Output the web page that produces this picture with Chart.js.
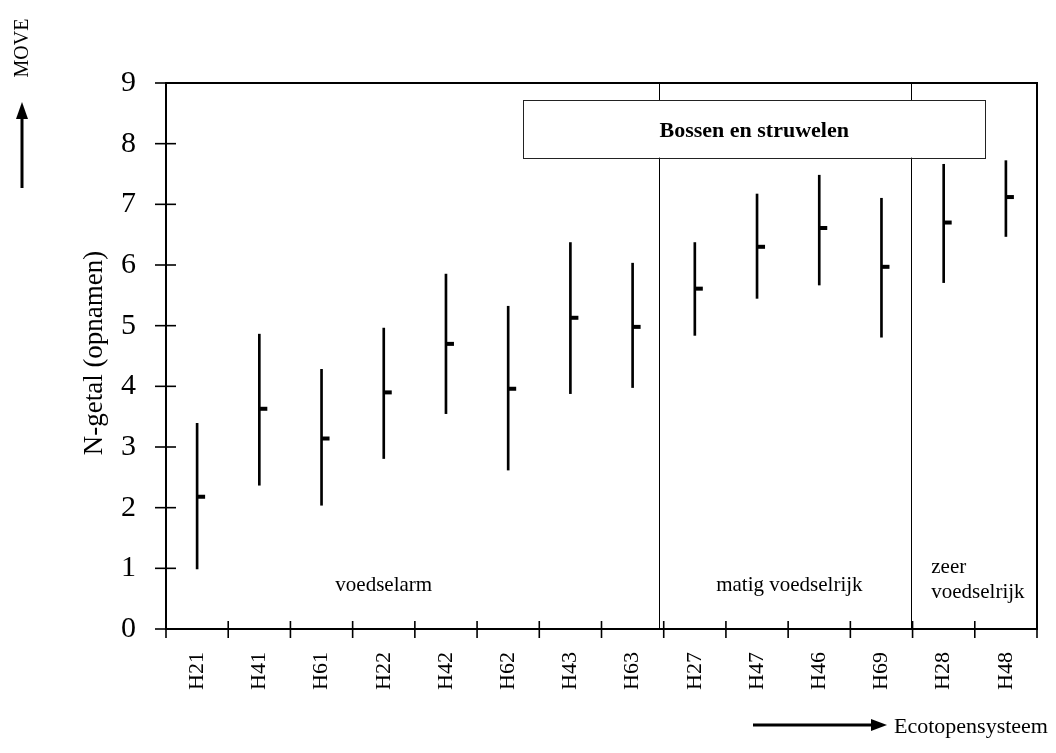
<!DOCTYPE html>
<html><head><meta charset="utf-8">
<script src="https://cdn.jsdelivr.net/npm/chart.js@4.4.1/dist/chart.umd.min.js"></script>
<style>html,body{margin:0;padding:0;background:#fff}</style>
</head><body>
<canvas id="c" width="1056" height="753"></canvas>
<script>
// ---- data ----
const categories = ['H21','H41','H61','H22','H42','H62','H43','H63','H27','H47','H46','H69','H28','H48'];
const lowValues  = [0.99, 2.37, 2.04, 2.81, 3.55, 2.62, 3.88, 3.98, 4.84, 5.45, 5.67, 4.81, 5.71, 6.47];
const highValues = [3.39, 4.86, 4.28, 4.96, 5.85, 5.32, 6.37, 6.03, 6.37, 7.17, 7.48, 7.10, 7.66, 7.72];
const meanValues = [2.18, 3.63, 3.14, 3.90, 4.70, 3.96, 5.13, 4.98, 5.61, 6.30, 6.61, 5.97, 6.70, 7.12];
const yTickValues = [0, 1, 2, 3, 4, 5, 6, 7, 8, 9];
const separatorsAt = [7.42, 11.48];           // category-index units
const groupNames = ['voedselarm', 'matig voedselrijk', 'zeer', 'voedselrijk'];
const boxTitle = 'Bossen en struwelen';
const yTitle = 'N-getal (opnamen)';
const xNote = 'Ecotopensysteem';
const yNote = 'MOVE';

const FAMILY = "'Liberation Serif', 'Times New Roman', serif";

const decor = {
  id: 'decor',
  afterDatasetsDraw(chart) {
    const ctx = chart.ctx, xs = chart.scales.x, ys = chart.scales.y, a = chart.chartArea;
    const step = xs.getPixelForValue(1) - xs.getPixelForValue(0);
    const cx = v => xs.getPixelForValue(0) + v * step;
    ctx.save();
    // separators
    ctx.strokeStyle = '#000'; ctx.lineWidth = 1;
    separatorsAt.forEach(v => {
      const x = Math.round(cx(v)) + 0.5;
      ctx.beginPath(); ctx.moveTo(x, a.top); ctx.lineTo(x, a.bottom); ctx.stroke();
    });
    // box
    const bx1 = cx(5.24), bx2 = cx(12.67), by1 = ys.getPixelForValue(8.72), by2 = ys.getPixelForValue(7.77);
    ctx.fillStyle = '#fff';
    ctx.fillRect(bx1, by1, bx2 - bx1, by2 - by1);
    ctx.strokeStyle = '#222'; ctx.lineWidth = 1;
    ctx.strokeRect(Math.round(bx1) + 0.5, Math.round(by1) + 0.5, Math.round(bx2 - bx1), Math.round(by2 - by1));
    ctx.fillStyle = '#000';
    ctx.font = 'bold 22px ' + FAMILY;
    ctx.textAlign = 'center'; ctx.textBaseline = 'middle';
    ctx.fillText(boxTitle, (bx1 + bx2) / 2, (by1 + by2) / 2 + 3);
    // mean markers
    meanValues.forEach((m, i) => {
      const x = xs.getPixelForValue(i), y = ys.getPixelForValue(m);
      ctx.fillRect(x, y - 2, 8, 4);
    });
    // frame
    ctx.strokeStyle = '#000'; ctx.lineWidth = 2;
    ctx.strokeRect(a.left, a.top, a.right - a.left, a.bottom - a.top);
    // y ticks (crossing)
    ctx.lineWidth = 1.6;
    yTickValues.forEach(v => {
      const y = ys.getPixelForValue(v);
      ctx.beginPath(); ctx.moveTo(a.left - 11, y); ctx.lineTo(a.left + 10, y); ctx.stroke();
    });
    // x ticks at category boundaries
    for (let i = 0; i <= categories.length; i++) {
      const x = cx(i - 0.5);
      ctx.beginPath(); ctx.moveTo(x, a.bottom - 8); ctx.lineTo(x, a.bottom + 9); ctx.stroke();
    }
    // group labels
    ctx.font = '21px ' + FAMILY; ctx.textBaseline = 'middle';
    ctx.textAlign = 'center';
    ctx.fillText(groupNames[0], cx(3.0), ys.getPixelForValue(0.72));
    ctx.fillText(groupNames[1], cx(9.52), ys.getPixelForValue(0.72));
    ctx.textAlign = 'left';
    ctx.fillText(groupNames[2], cx(11.80), ys.getPixelForValue(1.02));
    ctx.fillText(groupNames[3], cx(11.80), ys.getPixelForValue(0.60));
    // y title
    ctx.save();
    ctx.translate(95, 353);
    ctx.rotate(-Math.PI / 2);
    ctx.font = '27px ' + FAMILY; ctx.textAlign = 'center'; ctx.textBaseline = 'middle';
    ctx.fillText(yTitle, 0, 0);
    ctx.restore();
    // MOVE + up arrow
    ctx.save();
    ctx.translate(23, 48);
    ctx.rotate(-Math.PI / 2);
    ctx.font = '20px ' + FAMILY; ctx.textAlign = 'center'; ctx.textBaseline = 'middle';
    ctx.fillText(yNote, 0, 0);
    ctx.restore();
    ctx.lineWidth = 3;
    ctx.beginPath(); ctx.moveTo(22, 188); ctx.lineTo(22, 114); ctx.stroke();
    ctx.beginPath(); ctx.moveTo(22, 102); ctx.lineTo(16, 119); ctx.lineTo(28, 119); ctx.closePath(); ctx.fill();
    // Ecotopensysteem + right arrow
    ctx.beginPath(); ctx.moveTo(753, 725); ctx.lineTo(876, 725); ctx.stroke();
    ctx.beginPath(); ctx.moveTo(887, 725); ctx.lineTo(871, 719); ctx.lineTo(871, 731); ctx.closePath(); ctx.fill();
    ctx.font = '22px ' + FAMILY; ctx.textAlign = 'left'; ctx.textBaseline = 'middle';
    ctx.fillText(xNote, 894, 727);
    ctx.restore();
  }
};

new Chart(document.getElementById('c').getContext('2d'), {
  type: 'bar',
  data: {
    labels: categories,
    datasets: [{
      data: categories.map((c, i) => [lowValues[i], highValues[i]]),
      backgroundColor: '#000',
      borderWidth: 0,
      barThickness: 2,
      borderSkipped: false
    }]
  },
  options: {
    responsive: false,
    animation: false,
    devicePixelRatio: 1,
    layout: { padding: { top: 83, right: 19, left: 0, bottom: 0 } },
    plugins: { legend: { display: false }, tooltip: { enabled: false } },
    scales: {
      x: {
        type: 'category', offset: true,
        grid: { display: false, drawTicks: false }, border: { display: false },
        ticks: { autoSkip: false, minRotation: 90, maxRotation: 90, padding: 23, color: '#000', font: { family: FAMILY, size: 22 } },
        afterFit(s) { s.height = 124; }
      },
      y: {
        min: 0, max: 9,
        afterBuildTicks(s) { s.ticks = yTickValues.map(v => ({ value: v })); },
        ticks: { padding: 30, color: '#000', font: { family: FAMILY, size: 30 } },
        grid: { display: false, drawTicks: false }, border: { display: false },
        afterFit(s) { s.width = 166; }
      }
    }
  },
  plugins: [decor]
});
</script>
</body></html>
